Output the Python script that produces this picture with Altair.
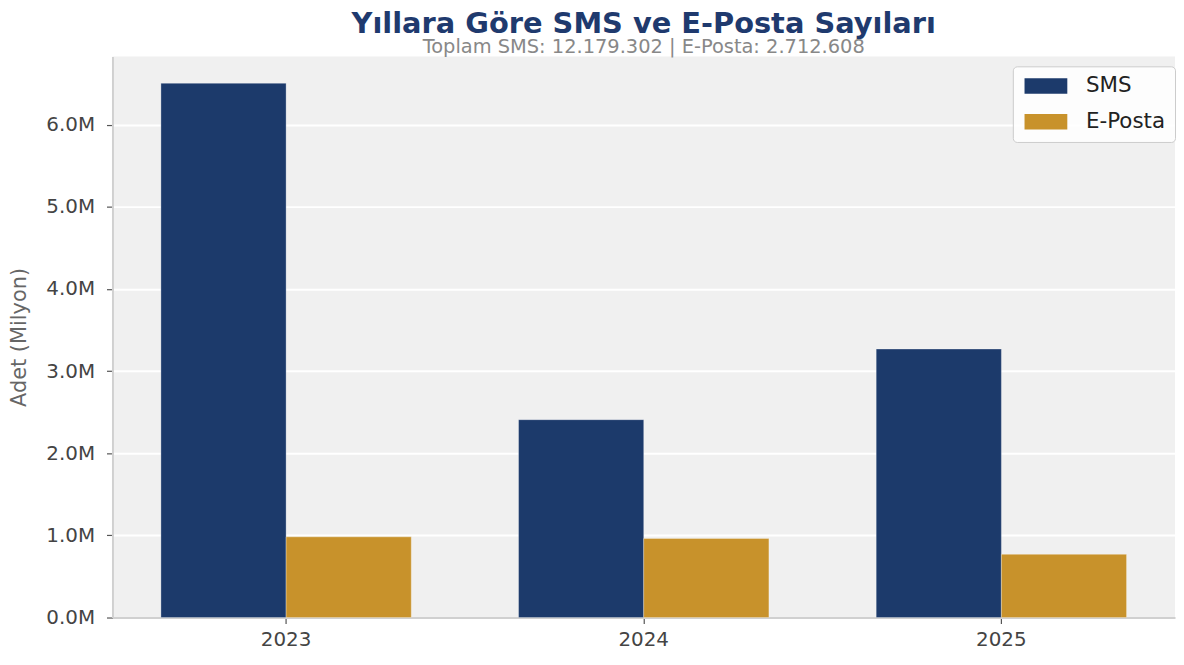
import altair as alt
import pandas as pd

years = ["2023", "2024", "2025"]
series = ["SMS", "E-Posta"]
sms = [6503000, 2408000, 3268000]
eposta = [982000, 962000, 769000]
colors = ["#1c3a6b", "#c8922b"]

rows = []
for i, y in enumerate(years):
    rows.append({"Yıl": y, "Tür": "SMS", "Adet": sms[i]})
    rows.append({"Yıl": y, "Tür": "E-Posta", "Adet": eposta[i]})
df = pd.DataFrame(rows)

FONT = "DejaVu Sans"
rect_symbol = "M-2.15,-0.78L2.15,-0.78L2.15,0.78L-2.15,0.78Z"

chart = alt.Chart(df).mark_bar(stroke="white", strokeWidth=0.6, strokeOpacity=0.5).encode(
    x=alt.X("Yıl:N", sort=years,
            scale=alt.Scale(paddingInner=0.3, paddingOuter=0.1355),
            axis=alt.Axis(title=None, labelAngle=0, labelFontSize=20, labelColor="#444444",
                          labelFont=FONT, labelPadding=6, tickSize=6, tickColor="#555555",
                          tickWidth=1.2, domainColor="#d0d0d0", domainWidth=2, grid=False)),
    xOffset=alt.XOffset("Tür:N", sort=series, scale=alt.Scale(paddingInner=0, paddingOuter=0)),
    y=alt.Y("Adet:Q", scale=alt.Scale(domain=[0, 6830000], nice=False),
            axis=alt.Axis(title="Adet (Milyon)", titleFontSize=21, titleFont=FONT,
                          titleFontWeight="normal", titleColor="#666666", titlePadding=16,
                          values=[0, 1e6, 2e6, 3e6, 4e6, 5e6, 6e6],
                          labelExpr="format(datum.value / 1000000, '.1f') + 'M'",
                          labelFontSize=20, labelColor="#444444", labelFont=FONT, labelPadding=12,
                          tickSize=6, tickColor="#555555", tickWidth=1.2,
                          domainColor="#d0d0d0", domainWidth=2,
                          grid=True, gridColor="#ffffff", gridWidth=2)),
    color=alt.Color("Tür:N", sort=series,
                    scale=alt.Scale(domain=series, range=colors),
                    legend=alt.Legend(title=None, orient="none", legendX=905, legendY=10,
                                      fillColor="rgba(255,255,255,0.85)", strokeColor="#cccccc",
                                      cornerRadius=4, padding=9, labelFontSize=21.5,
                                      labelFont=FONT, labelColor="#222222",
                                      symbolOffset=13.5, labelOffset=29.5,
                                      symbolType=rect_symbol, symbolSize=400,
                                      symbolStrokeWidth=0, symbolOpacity=1, rowPadding=13)),
).properties(
    width=1068,
    height=564,
    padding=0,
    title=alt.TitleParams(
        text="Yıllara Göre SMS ve E-Posta Sayıları",
        subtitle="Toplam SMS: 12.179.302 | E-Posta: 2.712.608",
        fontSize=29, font=FONT, fontWeight="bold", color="#1f3a6e",
        subtitleFontSize=19.5, subtitleFont=FONT, subtitleColor="#888888",
        subtitlePadding=-1, anchor="middle", offset=0,
    ),
).configure_view(fill="#f0f0f0", stroke=None)

chart.save("out.html", embed_options={"renderer": "svg", "actions": False})
